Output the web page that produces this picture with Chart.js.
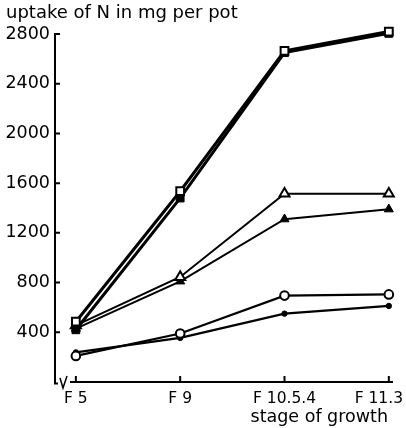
<!DOCTYPE html>
<html>
<head>
<meta charset="utf-8">
<script src="https://cdn.jsdelivr.net/npm/chart.js@4.4.0/dist/chart.umd.min.js"></script>
<style>
  html, body { margin: 0; padding: 0; background: #fff; }
  canvas { display: block; }
</style>
</head>
<body>
<canvas id="c" width="406" height="428"></canvas>
<script>
// Growth stages along the x axis
const stages = ['F 5', 'F 9', 'F 10.5.4', 'F 11.3'];
// Labelled values on the y axis
const yTickValues = [400, 800, 1200, 1600, 2000, 2400, 2800];

// N uptake (mg per pot) for each treatment
const openSquares     = [485, 1535, 2665, 2820];
const filledSquares   = [420, 1480, 2650, 2805];
const openTriangles   = [455,  845, 1515, 1515];
const filledTriangles = [430,  810, 1310, 1390];
const openCircles     = [210,  390,  695,  705];
const filledCircles   = [238,  355,  550,  612];

const yTitle = 'uptake of N in mg per pot';
const xTitle = 'stage of growth';

const FONT = '"DejaVu Sans", sans-serif';
const INK = '#000';

const toPoints = arr => arr.map((v, i) => ({ x: i, y: v }));

function series(values, style, radius, filled, lineWidth) {
  return {
    data: toPoints(values),
    borderColor: INK,
    borderWidth: lineWidth,
    pointStyle: style,
    pointRadius: radius,
    pointBorderWidth: filled ? 1 : 2,
    pointBorderColor: INK,
    pointBackgroundColor: filled ? INK : '#fff',
    tension: 0,
    clip: false
  };
}

// Axes with inward ticks and a broken origin, plus the free-standing texts
const axesPlugin = {
  id: 'axesAndTexts',
  beforeDatasetsDraw(chart) {
    const { ctx, scales: { x, y } } = chart;
    const left = x.left;
    const bottom = y.bottom;
    const yTop = y.getPixelForValue(yTickValues[yTickValues.length - 1]);
    ctx.save();
    ctx.strokeStyle = INK;
    ctx.lineJoin = 'miter';

    // vertical axis, curling into the break at its foot
    ctx.lineWidth = 2;
    ctx.beginPath();
    ctx.moveTo(left, yTop - 1);
    ctx.lineTo(left, bottom + 1.5);
    ctx.lineTo(left + 3, bottom + 1.5);
    ctx.stroke();

    // break mark
    ctx.lineWidth = 1.5;
    ctx.beginPath();
    ctx.moveTo(left + 5, bottom - 4);
    ctx.lineTo(left + 8, bottom + 6);
    ctx.lineTo(left + 12, bottom - 6);
    ctx.stroke();

    // horizontal axis
    ctx.lineWidth = 2.2;
    ctx.beginPath();
    ctx.moveTo(left + 15, bottom);
    ctx.lineTo(x.right, bottom);
    ctx.stroke();

    // ticks pointing into the plot
    ctx.lineWidth = 2;
    ctx.beginPath();
    yTickValues.forEach(v => {
      const py = y.getPixelForValue(v);
      ctx.moveTo(left, py);
      ctx.lineTo(left + 5, py);
    });
    stages.forEach((s, i) => {
      const px = x.getPixelForValue(i);
      ctx.moveTo(px, bottom);
      ctx.lineTo(px, bottom - 6);
    });
    ctx.stroke();
    ctx.restore();
  },
  afterDraw(chart) {
    const { ctx, scales: { x, y } } = chart;
    ctx.save();
    ctx.fillStyle = INK;
    ctx.textBaseline = 'alphabetic';

    // stage labels under the axis, kept inside the canvas
    ctx.font = '15.5px ' + FONT;
    ctx.textAlign = 'center';
    stages.forEach((s, i) => {
      const w = ctx.measureText(s).width;
      let cx = x.getPixelForValue(i);
      if (cx + w / 2 > chart.width - 3) cx = chart.width - 3 - w / 2;
      ctx.fillText(s, cx, y.bottom + 21);
    });

    // axis titles
    ctx.font = '18px ' + FONT;
    ctx.textAlign = 'left';
    ctx.fillText(yTitle, 6, 18);
    ctx.font = '17.5px ' + FONT;
    ctx.textAlign = 'right';
    ctx.fillText(xTitle, x.right - 5, y.bottom + 40);
    ctx.restore();
  }
};

new Chart(document.getElementById('c'), {
  type: 'line',
  data: {
    datasets: [
      series(openSquares, 'rect', 5.5, false, 3),
      series(filledSquares, 'rect', 5.5, true, 3),
      series(openTriangles, 'triangle', 5.8, false, 2),
      series(filledTriangles, 'triangle', 5.2, true, 2),
      series(openCircles, 'circle', 4.3, false, 2.2),
      series(filledCircles, 'circle', 2.7, true, 2.2)
    ]
  },
  options: {
    responsive: false,
    animation: false,
    devicePixelRatio: 1,
    layout: { padding: { top: 34, right: 13, bottom: 0, left: 0 } },
    plugins: { legend: { display: false }, tooltip: { enabled: false }, title: { display: false } },
    scales: {
      x: {
        type: 'linear',
        min: -0.2,
        max: 3.04,
        grid: { display: false },
        border: { display: false },
        ticks: { display: false },
        afterFit(s) { s.height = 46; s.paddingLeft = 0; s.paddingRight = 0; }
      },
      y: {
        min: 0,
        max: 2800,
        grid: { display: false, drawTicks: false },
        border: { display: false },
        ticks: {
          color: INK,
          padding: 5,
          font: { family: FONT, size: 17.5 },
          callback: v => String(v)
        },
        afterBuildTicks(s) { s.ticks = yTickValues.map(v => ({ value: v })); },
        afterFit(s) { s.width = 55; s.paddingTop = 0; s.paddingBottom = 0; }
      }
    }
  },
  plugins: [axesPlugin]
});
</script>
</body>
</html>
